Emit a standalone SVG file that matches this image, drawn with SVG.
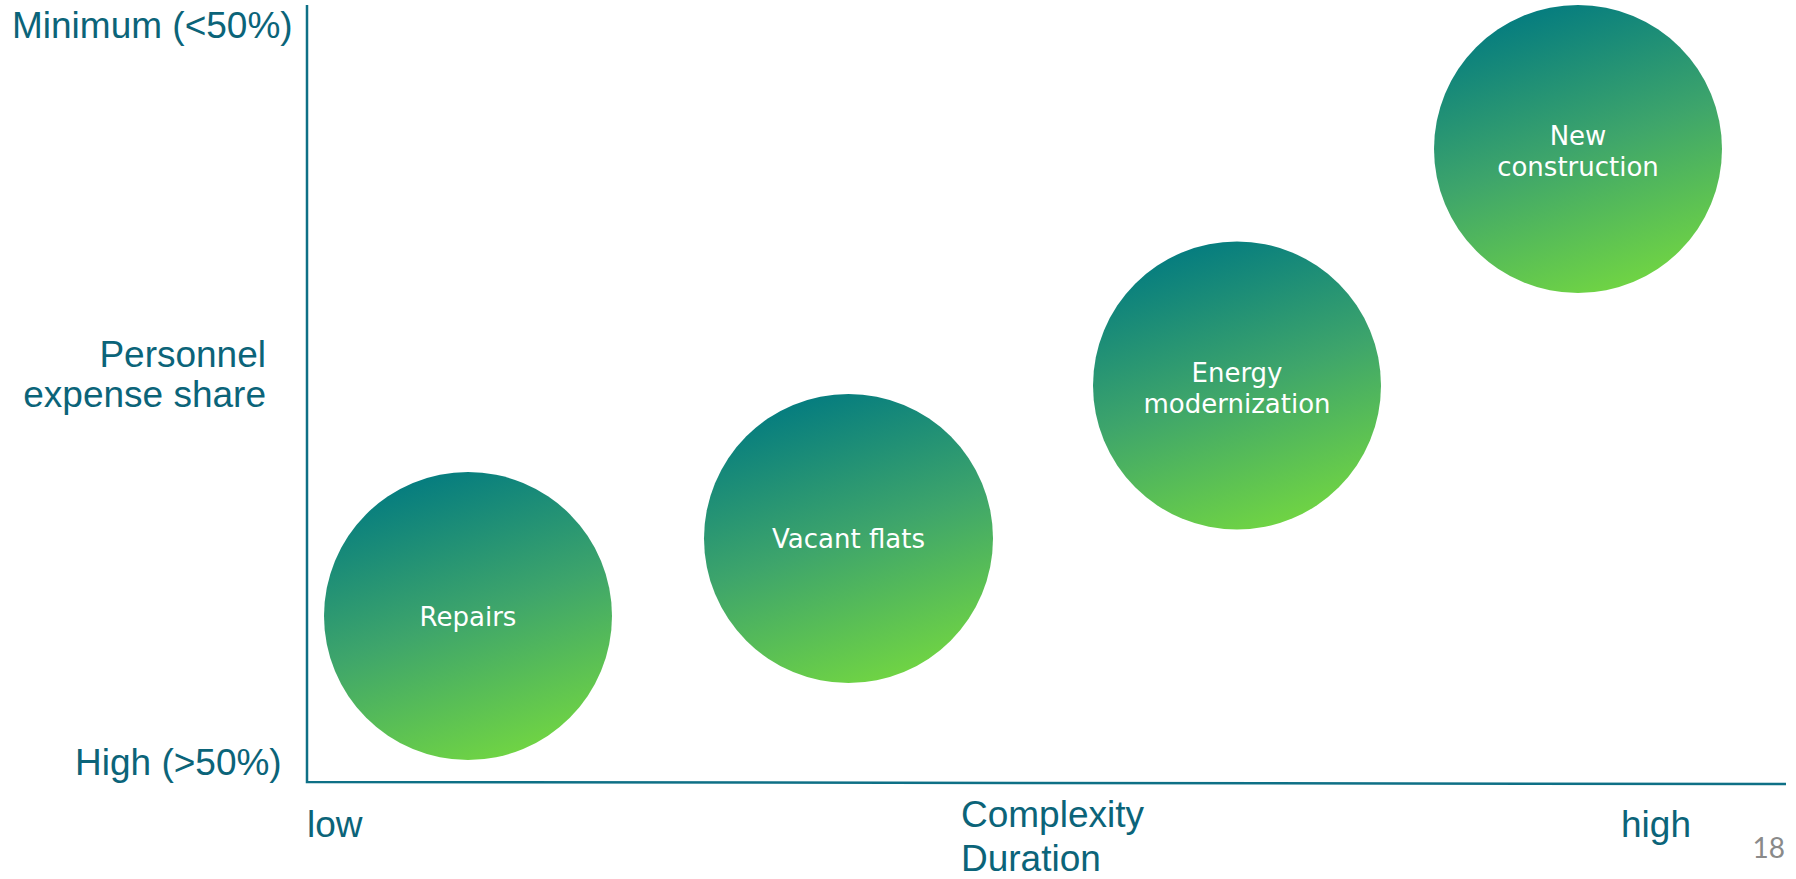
<svg xmlns="http://www.w3.org/2000/svg" width="1796" height="879" viewBox="0 0 1796 879">
<defs>
<linearGradient id="g" x1="0.33" y1="0" x2="0.67" y2="1">
<stop offset="0" stop-color="#037b80"/>
<stop offset="0.5" stop-color="#3ea56b"/>
<stop offset="1" stop-color="#72d642"/>
</linearGradient>
<style>
.ax{font-family:"Liberation Sans",Arial,sans-serif;font-size:37px;fill:#0b6479}
.nl{font-family:"DejaVu Sans",Verdana,sans-serif;font-size:26px;fill:#ffffff;text-anchor:middle}
.line{stroke:#0e7086;stroke-width:2.5;fill:none}
</style>
</defs>
<rect width="1796" height="879" fill="#ffffff"/>
<g id="axes">
<path class="line" d="M307,5 L307,782 L1786,784"/>
</g>
<g id="labels">
<text class="ax" x="12" y="38">Minimum (&lt;50%)</text>
<text class="ax" x="266" y="367" text-anchor="end">Personnel</text>
<text class="ax" x="266" y="407" text-anchor="end">expense share</text>
<text class="ax" x="75" y="775">High (&gt;50%)</text>
<text class="ax" x="961" y="827">Complexity</text>
<text class="ax" x="961" y="871">Duration</text>
<text class="ax" x="307" y="837">low</text>
<text class="ax" x="1621" y="837">high</text>
<text x="1785" y="858" text-anchor="end" style="font-family:Lato,'Open Sans',sans-serif;font-size:28px;fill:#8a8a8a">18</text>
</g>
<g id="repairs">
<circle cx="468" cy="616" r="144" fill="url(#g)"/>
<text class="nl" x="468" y="626">Repairs</text>
</g>
<g id="vacant-flats">
<circle cx="848.5" cy="538.5" r="144.5" fill="url(#g)"/>
<text class="nl" x="848.5" y="548">Vacant flats</text>
</g>
<g id="energy-modernization">
<circle cx="1237" cy="385.5" r="144" fill="url(#g)"/>
<text class="nl" x="1237" y="382">Energy</text>
<text class="nl" x="1237" y="413">modernization</text>
</g>
<g id="new-construction">
<circle cx="1578" cy="149" r="144" fill="url(#g)"/>
<text class="nl" x="1578" y="145">New</text>
<text class="nl" x="1578" y="176">construction</text>
</g>
<g id="connectors"/>
</svg>
